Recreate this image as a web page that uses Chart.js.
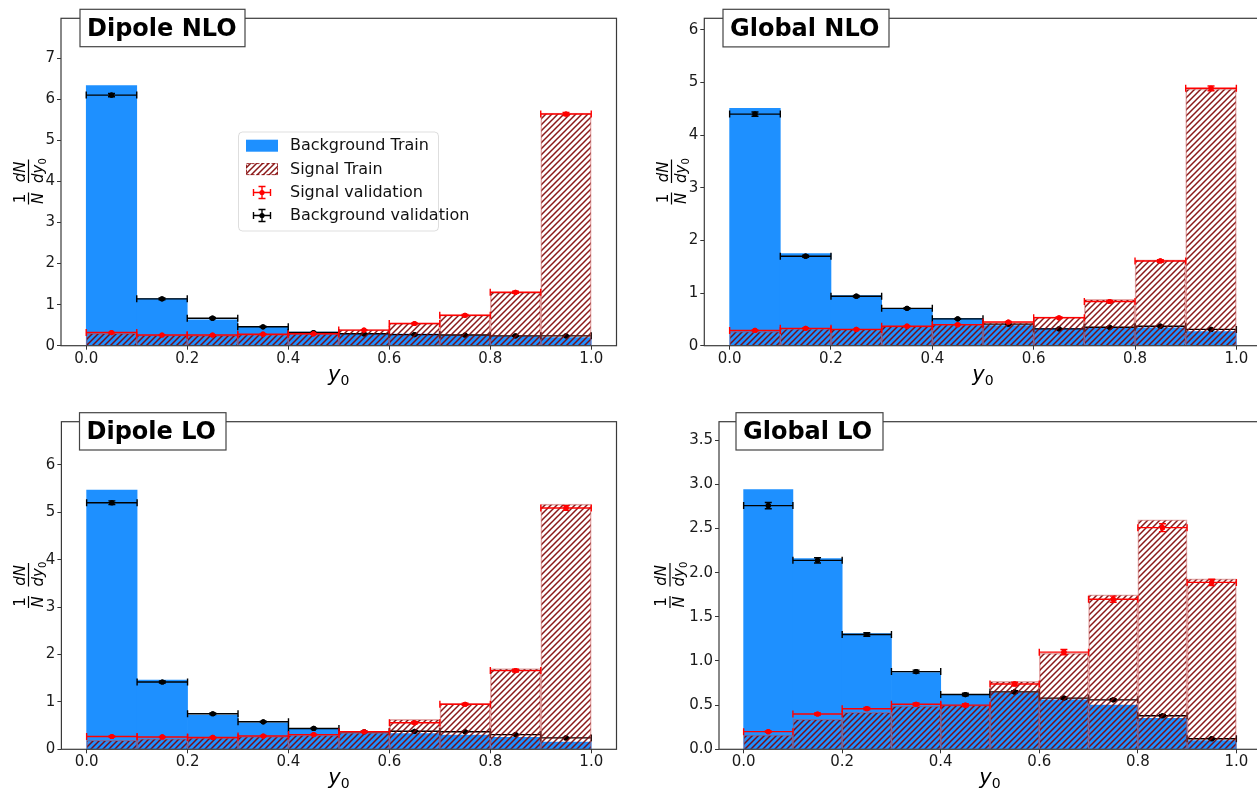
<!DOCTYPE html>
<html>
<head>
<meta charset="utf-8">
<script src="https://cdn.jsdelivr.net/npm/chart.js@4.4.0/dist/chart.umd.min.js"></script>
<style>
  html, body { margin: 0; padding: 0; background: #fff; overflow: hidden; width: 1257px; height: 792px; }
  .panel { position: absolute; }
</style>
</head>
<body>
<div class="panel" style="left:0px;top:0px"><canvas id="c0" width="630" height="396"></canvas></div>
<div class="panel" style="left:630px;top:0px"><canvas id="c1" width="640" height="396"></canvas></div>
<div class="panel" style="left:0px;top:396px"><canvas id="c2" width="630" height="396"></canvas></div>
<div class="panel" style="left:630px;top:396px"><canvas id="c3" width="640" height="396"></canvas></div>
<script>
// bins of y0, width 0.1
const binCenters = [0.05, 0.15, 0.25, 0.35, 0.45, 0.55, 0.65, 0.75, 0.85, 0.95];
const binHalf = 0.05;
const xTicks = [0.0, 0.2, 0.4, 0.6, 0.8, 1.0];

// Dipole NLO
const dipoleNloBgTrain  = [6.33, 1.15, 0.63, 0.46, 0.33, 0.30, 0.28, 0.24, 0.22, 0.20];
const dipoleNloBgVal    = [6.10, 1.14, 0.67, 0.46, 0.32, 0.29, 0.27, 0.26, 0.24, 0.24];
const dipoleNloBgErr    = [0.04, 0.02, 0.015, 0.012, 0.01, 0.01, 0.01, 0.01, 0.01, 0.01];
const dipoleNloSigTrain = [0.30, 0.26, 0.25, 0.27, 0.29, 0.39, 0.55, 0.75, 1.30, 5.66];
const dipoleNloSigVal   = [0.32, 0.26, 0.26, 0.28, 0.29, 0.38, 0.54, 0.74, 1.30, 5.64];
const dipoleNloSigErr   = [0.01, 0.01, 0.01, 0.01, 0.01, 0.012, 0.015, 0.02, 0.025, 0.04];
const dipoleNloYTicks   = [0, 1, 2, 3, 4, 5, 6, 7];

// Global NLO
const globalNloBgTrain  = [4.51, 1.75, 0.95, 0.69, 0.52, 0.38, 0.33, 0.33, 0.34, 0.27];
const globalNloBgVal    = [4.40, 1.70, 0.94, 0.71, 0.51, 0.41, 0.32, 0.35, 0.37, 0.31];
const globalNloBgErr    = [0.04, 0.02, 0.015, 0.012, 0.01, 0.01, 0.01, 0.01, 0.01, 0.01];
const globalNloSigTrain = [0.27, 0.32, 0.31, 0.37, 0.40, 0.44, 0.55, 0.88, 1.63, 4.88];
const globalNloSigVal   = [0.29, 0.33, 0.31, 0.37, 0.40, 0.45, 0.53, 0.84, 1.61, 4.89];
const globalNloSigErr   = [0.01, 0.01, 0.01, 0.01, 0.01, 0.012, 0.015, 0.02, 0.025, 0.045];
const globalNloYTicks   = [0, 1, 2, 3, 4, 5, 6];

// Dipole LO
const dipoleLoBgTrain  = [5.47, 1.46, 0.72, 0.56, 0.42, 0.35, 0.33, 0.30, 0.25, 0.15];
const dipoleLoBgVal    = [5.20, 1.42, 0.75, 0.58, 0.44, 0.37, 0.38, 0.37, 0.31, 0.24];
const dipoleLoBgErr    = [0.04, 0.02, 0.015, 0.012, 0.01, 0.01, 0.01, 0.01, 0.01, 0.01];
const dipoleLoSigTrain = [0.19, 0.22, 0.24, 0.27, 0.30, 0.35, 0.63, 0.97, 1.70, 5.17];
const dipoleLoSigVal   = [0.27, 0.26, 0.25, 0.28, 0.31, 0.37, 0.56, 0.95, 1.66, 5.09];
const dipoleLoSigErr   = [0.01, 0.01, 0.01, 0.01, 0.01, 0.012, 0.02, 0.02, 0.03, 0.05];
const dipoleLoYTicks   = [0, 1, 2, 3, 4, 5, 6];

// Global LO
const globalLoBgTrain  = [2.94, 2.16, 1.31, 0.87, 0.61, 0.64, 0.56, 0.50, 0.35, 0.10];
const globalLoBgVal    = [2.76, 2.14, 1.30, 0.88, 0.62, 0.65, 0.58, 0.56, 0.38, 0.12];
const globalLoBgErr    = [0.035, 0.03, 0.02, 0.017, 0.014, 0.014, 0.014, 0.013, 0.011, 0.007];
const globalLoSigTrain = [0.16, 0.34, 0.42, 0.49, 0.50, 0.77, 1.09, 1.75, 2.60, 1.93];
const globalLoSigVal   = [0.20, 0.40, 0.46, 0.51, 0.50, 0.74, 1.10, 1.70, 2.51, 1.89];
const globalLoSigErr   = [0.008, 0.012, 0.013, 0.015, 0.015, 0.02, 0.03, 0.035, 0.045, 0.035];
const globalLoYTicks   = [0, 0.5, 1.0, 1.5, 2.0, 2.5, 3.0, 3.5];

const legendLabels = ['Background Train', 'Signal Train', 'Signal validation', 'Background validation'];

const BLUE = '#1E90FF';
const HATCH = 'rgba(125,0,0,0.9)';
const RED = '#ff0000';
const FONT = "'DejaVu Sans', sans-serif";

Chart.defaults.font.family = FONT;

function makeHatch(ctx) {
  const s = 6;
  const c = document.createElement('canvas');
  c.width = s; c.height = s;
  const g = c.getContext('2d');
  g.strokeStyle = HATCH;
  g.lineWidth = 1.5;
  g.beginPath();
  g.moveTo(0, s); g.lineTo(s, 0);
  g.moveTo(-1, 1); g.lineTo(1, -1);
  g.moveTo(s - 1, s + 1); g.lineTo(s + 1, s - 1);
  g.stroke();
  return ctx.createPattern(c, 'repeat');
}

function pts(vals) {
  return vals.map((v, i) => ({ x: binCenters[i], y: v }));
}

function drawErrMark(ctx, x0, x1, xc, y, ye0, ye1, color) {
  ctx.save();
  ctx.strokeStyle = color;
  ctx.lineWidth = 1.4;
  ctx.beginPath();
  ctx.moveTo(x0, y); ctx.lineTo(x1, y);
  ctx.moveTo(x0, y - 3.5); ctx.lineTo(x0, y + 3.5);
  ctx.moveTo(x1, y - 3.5); ctx.lineTo(x1, y + 3.5);
  ctx.moveTo(xc, ye0); ctx.lineTo(xc, ye1);
  ctx.moveTo(xc - 3.5, ye0); ctx.lineTo(xc + 3.5, ye0);
  ctx.moveTo(xc - 3.5, ye1); ctx.lineTo(xc + 3.5, ye1);
  ctx.stroke();
  ctx.fillStyle = color;
  ctx.beginPath(); ctx.arc(xc, y, 2.6, 0, Math.PI * 2); ctx.fill();
  ctx.restore();
}

const errBars = {
  id: 'errbars',
  afterDatasetDraw(chart, args) {
    const ds = chart.data.datasets[args.index];
    if (!ds.yErr) return;
    const xs = chart.scales.x, ys = chart.scales.y, ctx = chart.ctx;
    ds.data.forEach((p, i) => {
      drawErrMark(ctx,
        xs.getPixelForValue(p.x - binHalf), xs.getPixelForValue(p.x + binHalf), xs.getPixelForValue(p.x),
        ys.getPixelForValue(p.y), ys.getPixelForValue(p.y - ds.yErr[i]), ys.getPixelForValue(p.y + ds.yErr[i]),
        ds.borderColor);
    });
  }
};

function decor(cfg) {
  return {
    id: 'decor',
    afterDraw(chart) {
      const ctx = chart.ctx, a = chart.chartArea;
      ctx.save();
      // frame
      ctx.strokeStyle = '#3a3a3a';
      ctx.lineWidth = 1.2;
      ctx.strokeRect(a.left, a.top, a.right - a.left, a.bottom - a.top);

      // title box
      const b = cfg.box;
      ctx.fillStyle = '#fff';
      ctx.fillRect(b.x, b.y, b.w, b.h);
      ctx.strokeStyle = '#444';
      ctx.lineWidth = 1.2;
      ctx.strokeRect(b.x, b.y, b.w, b.h);
      ctx.fillStyle = '#000';
      ctx.font = "bold 24px " + FONT;
      ctx.textBaseline = 'alphabetic';
      ctx.textAlign = 'left';
      ctx.fillText(cfg.title, b.x + 7, b.y + 26.5);

      // x label: y0
      const xc = (a.left + a.right) / 2, by = a.bottom + 35;
      ctx.font = "italic 21px " + FONT;
      const wy = ctx.measureText('y').width;
      ctx.font = "14px " + FONT;
      const w0 = ctx.measureText('0').width;
      const sx = xc - (wy + w0) / 2;
      ctx.font = "italic 21px " + FONT;
      ctx.fillText('y', sx, by);
      ctx.font = "14px " + FONT;
      ctx.fillText('0', sx + wy, by + 4);

      // y label: (1/N) dN/dy0, rotated
      ctx.translate(cfg.ylabX, (a.top + a.bottom) / 2);
      ctx.rotate(-Math.PI / 2);
      ctx.textAlign = 'center';
      ctx.font = "15px " + FONT;
      ctx.fillText('1', -16.5, -4);
      ctx.font = "italic 15px " + FONT;
      ctx.fillText('N', -16.5, 14);
      ctx.fillRect(-22.5, -0.6, 12, 1.2);
      ctx.fillText('dN', 10, -4);
      ctx.textAlign = 'left';
      ctx.fillText('dy', -1, 14);
      const wdy = ctx.measureText('dy').width;
      ctx.font = "10px " + FONT;
      ctx.fillText('0', -1 + wdy, 17);
      ctx.fillRect(-1, -0.6, 23.5, 1.2);
      ctx.restore();

      if (cfg.legend) drawLegend(ctx, chart);
    }
  };
}

function drawLegend(ctx, chart) {
  ctx.save();
  const L = { x: 238.5, y: 132, w: 200, h: 99 };
  ctx.fillStyle = 'rgba(255,255,255,0.85)';
  ctx.strokeStyle = 'rgba(0,0,0,0.13)';
  ctx.lineWidth = 1;
  ctx.beginPath();
  ctx.roundRect(L.x, L.y, L.w, L.h, 4);
  ctx.fill(); ctx.stroke();
  const rows = [145.7, 169.1, 192.5, 215.5];
  // handles
  ctx.fillStyle = BLUE;
  ctx.fillRect(246, rows[0] - 6, 32, 12);
  ctx.fillStyle = chart.$hatch;
  ctx.fillRect(246, rows[1] - 6, 32, 12);
  ctx.strokeStyle = 'rgba(139,0,0,0.8)';
  ctx.setLineDash([3, 2]);
  ctx.strokeRect(246.5, rows[1] - 5.5, 31, 11);
  ctx.setLineDash([]);
  drawErrMark(ctx, 253.5, 270.5, 262, rows[2], rows[2] + 6, rows[2] - 6, RED);
  drawErrMark(ctx, 253.5, 270.5, 262, rows[3], rows[3] + 6, rows[3] - 6, '#000');
  ctx.fillStyle = '#111';
  ctx.font = "16px " + FONT;
  ctx.textAlign = 'left';
  ctx.textBaseline = 'middle';
  legendLabels.forEach((t, i) => ctx.fillText(t, 290, rows[i] + 0.5));
  ctx.restore();
}

const panels = [
  { id: 'c0', w: 630, h: 396, area: { l: 61, r: 616.5, t: 18.3, b: 345.7 }, ymax: 7.97,
    title: 'Dipole NLO', box: { x: 80, y: 9.3, w: 165, h: 37.4 }, ylabX: 28.5, legend: true,
    bg: dipoleNloBgTrain, bgVal: dipoleNloBgVal, bgErr: dipoleNloBgErr,
    sig: dipoleNloSigTrain, sigVal: dipoleNloSigVal, sigErr: dipoleNloSigErr, yTicks: dipoleNloYTicks, dec: 0 },
  { id: 'c1', w: 640, h: 396, area: { l: 74.3, r: 631.7, t: 18.3, b: 345.7 }, ymax: 6.22,
    title: 'Global NLO', box: { x: 93, y: 9.3, w: 166, h: 37.6 }, ylabX: 41.5,
    bg: globalNloBgTrain, bgVal: globalNloBgVal, bgErr: globalNloBgErr,
    sig: globalNloSigTrain, sigVal: globalNloSigVal, sigErr: globalNloSigErr, yTicks: globalNloYTicks, dec: 0 },
  { id: 'c2', w: 630, h: 396, area: { l: 61.4, r: 616.5, t: 25.7, b: 353.3 }, ymax: 6.91,
    title: 'Dipole LO', box: { x: 79.5, y: 16.7, w: 146.5, h: 37.3 }, ylabX: 28.5,
    bg: dipoleLoBgTrain, bgVal: dipoleLoBgVal, bgErr: dipoleLoBgErr,
    sig: dipoleLoSigTrain, sigVal: dipoleLoSigVal, sigErr: dipoleLoSigErr, yTicks: dipoleLoYTicks, dec: 0 },
  { id: 'c3', w: 640, h: 396, area: { l: 89, r: 631, t: 25.7, b: 353.3 }, ymax: 3.71,
    title: 'Global LO', box: { x: 106, y: 16.7, w: 147, h: 37.3 }, ylabX: 40,
    bg: globalLoBgTrain, bgVal: globalLoBgVal, bgErr: globalLoBgErr,
    sig: globalLoSigTrain, sigVal: globalLoSigVal, sigErr: globalLoSigErr, yTicks: globalLoYTicks, dec: 1 }
];

panels.forEach(p => {
  const canvas = document.getElementById(p.id);
  const ctx = canvas.getContext('2d');
  const hatch = makeHatch(ctx);
  const chart = new Chart(canvas, {
    type: 'bar',
    data: {
      datasets: [
        { type: 'scatter', label: 'Signal validation', data: pts(p.sigVal), yErr: p.sigErr,
          borderColor: RED, backgroundColor: RED, pointRadius: 2.6, pointBorderWidth: 0, order: 0 },
        { type: 'bar', label: 'Signal Train', data: pts(p.sig), backgroundColor: hatch,
          borderColor: 'rgba(200,70,70,0.45)', borderWidth: 1, borderSkipped: 'bottom',
          grouped: false, barPercentage: 1, categoryPercentage: 1, order: 1 },
        { type: 'scatter', label: 'Background validation', data: pts(p.bgVal), yErr: p.bgErr,
          borderColor: '#000', backgroundColor: '#000', pointRadius: 2.6, pointBorderWidth: 0, order: 2 },
        { type: 'bar', label: 'Background Train', data: pts(p.bg), backgroundColor: BLUE,
          borderWidth: 0, grouped: false, barPercentage: 1, categoryPercentage: 1, order: 3 }
      ]
    },
    options: {
      responsive: false,
      animation: false,
      events: [],
      layout: { padding: { left: 0, top: p.area.t, right: p.w - p.area.r, bottom: 0 } },
      plugins: { legend: { display: false }, tooltip: { enabled: false } },
      scales: {
        x: {
          type: 'linear', min: -0.05, max: 1.05, offset: false,
          afterBuildTicks: s => { s.ticks = xTicks.map(v => ({ value: v })); },
          afterFit: s => { s.height = p.h - p.area.b; },
          grid: { display: true, drawOnChartArea: false, drawTicks: true, tickLength: 4, color: '#333', offset: false },
          border: { display: false },
          ticks: { color: '#1a1a1a', font: { size: 15 }, padding: 0, maxRotation: 0, autoSkip: false,
                   callback: v => v.toFixed(1) }
        },
        y: {
          type: 'linear', min: 0, max: p.ymax,
          afterBuildTicks: s => { s.ticks = p.yTicks.map(v => ({ value: v })); },
          afterFit: s => { s.width = p.area.l; },
          grid: { display: true, drawOnChartArea: false, drawTicks: true, tickLength: 4, color: '#333' },
          border: { display: false },
          ticks: { color: '#1a1a1a', font: { size: 15 }, padding: 2, autoSkip: false,
                   callback: v => v.toFixed(p.dec) }
        }
      }
    },
    plugins: [errBars, decor(p)]
  });
  chart.$hatch = hatch;
  chart.draw();
});
</script>
</body>
</html>
